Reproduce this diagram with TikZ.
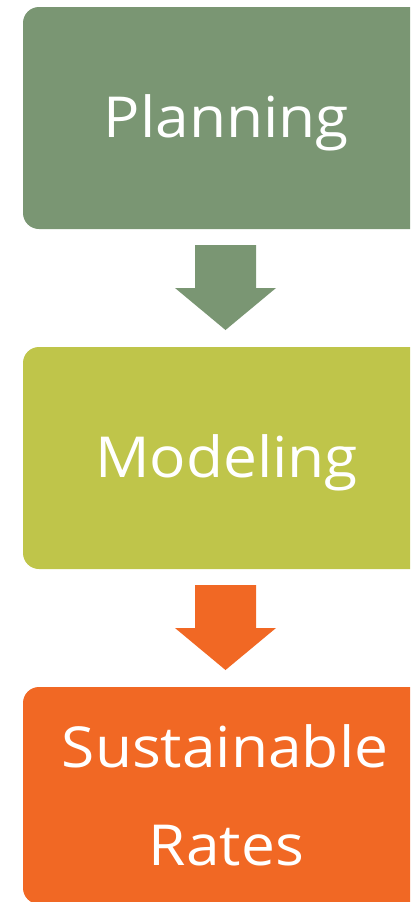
\documentclass[tikz,border=0pt]{standalone}
\usepackage{fontspec}
\setmainfont{Open Sans}[FakeStretch=1.07]
\usetikzlibrary{calc}
\definecolor{cgreen}{RGB}{122,150,115}
\definecolor{colive}{RGB}{191,197,74}
\definecolor{corange}{RGB}{241,104,36}
\tikzset{
  stagebox/.style={rectangle, rounded corners=16pt, draw=none, minimum width=407pt, minimum height=222pt, inner sep=0pt},
  stagetxt/.style={text=white, font=\fontsize{56.5}{98}\selectfont, anchor=base, inner sep=0pt},
}
\begin{document}
\begin{tikzpicture}[x=1pt,y=-1pt]
\useasboundingbox (0,0) rectangle (410,902);
\begin{scope}
\clip (0,0) rectangle (410,902);
\node[stagebox, fill=cgreen] (b1) at (226.5,118) {};
\node[stagebox, fill=colive] (b2) at (226.5,458) {};
\node[stagebox, fill=corange, minimum height=217pt] (b3) at (226.5,795.5) {};
\end{scope}
\node[stagetxt] (t1) at (226.5,137) {Planning};
\node[stagetxt] (t2) at (226.5,477) {Modeling};
\node[stagetxt] (t3a) at (225,767) {Sustainable};
\node[stagetxt] (t3b) at (226.5,865) {Rates};
% block arrows
\coordinate (a1) at (225.5,245);
\coordinate (a2) at (225.5,585);
\foreach \c/\col in {a1/cgreen, a2/corange}{
  \fill[\col] ($(\c)+(-30.5,0)$) -- ($(\c)+(30.5,0)$) -- ($(\c)+(30.5,43)$) -- ($(\c)+(50.5,43)$)
     -- ($(\c)+(0,85)$) -- ($(\c)+(-50.5,43)$) -- ($(\c)+(-30.5,43)$) -- cycle;
}
\end{tikzpicture}
\end{document}
